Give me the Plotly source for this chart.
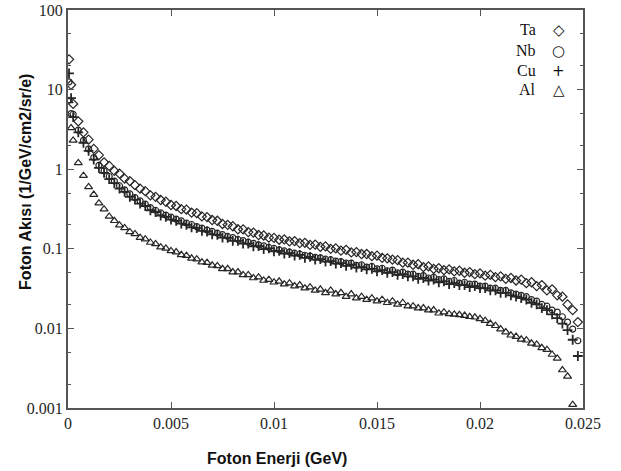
import plotly.graph_objects as go

# foton enerjisi (GeV)
energy = [0.00005, 0.00015, 0.00025, 0.0005, 0.00075, 0.001, 0.00125, 0.0015, 0.00175, 0.002,
          0.00225, 0.0025, 0.00275, 0.003, 0.00325, 0.0035, 0.00375, 0.004, 0.00425, 0.0045,
          0.00475, 0.005, 0.00525, 0.0055, 0.00575, 0.006, 0.00625, 0.0065, 0.00675, 0.007,
          0.00725, 0.0075, 0.00775, 0.008, 0.00825, 0.0085, 0.00875, 0.009, 0.00925, 0.0095,
          0.00975, 0.01, 0.01025, 0.0105, 0.01075, 0.011, 0.01125, 0.0115, 0.01175, 0.012,
          0.01225, 0.0125, 0.01275, 0.013, 0.01325, 0.0135, 0.01375, 0.014, 0.01425, 0.0145,
          0.01475, 0.015, 0.01525, 0.0155, 0.01575, 0.016, 0.01625, 0.0165, 0.01675, 0.017,
          0.01725, 0.0175, 0.01775, 0.018, 0.01825, 0.0185, 0.01875, 0.019, 0.01925, 0.0195,
          0.01975, 0.02, 0.02025, 0.0205, 0.02075, 0.021, 0.02125, 0.0215, 0.02175, 0.022,
          0.02225, 0.0225, 0.02275, 0.023, 0.02325, 0.0235, 0.02375, 0.024, 0.02425, 0.0245,
          0.02475]

ta = [24, 11.5, 6.6, 4.0, 2.9, 2.35, 1.8, 1.5, 1.22, 1.1,
      0.95, 0.88, 0.76, 0.71, 0.63, 0.57, 0.53, 0.47, 0.45, 0.41,
      0.39, 0.355, 0.345, 0.315, 0.31, 0.285, 0.28, 0.255, 0.25, 0.23,
      0.225, 0.205, 0.2, 0.192, 0.176, 0.175, 0.162, 0.16, 0.149, 0.147,
      0.138, 0.137, 0.13, 0.131, 0.124, 0.125, 0.118, 0.119, 0.112, 0.113,
      0.106, 0.107, 0.1, 0.101, 0.095, 0.097, 0.09, 0.091, 0.086, 0.086,
      0.081, 0.082, 0.077, 0.076, 0.073, 0.072, 0.067, 0.067, 0.063, 0.064,
      0.059, 0.06, 0.056, 0.057, 0.054, 0.055, 0.052, 0.053, 0.05, 0.051,
      0.048, 0.049, 0.046, 0.047, 0.044, 0.045, 0.042, 0.043, 0.04, 0.041,
      0.037, 0.038, 0.034, 0.035, 0.03, 0.031, 0.026, 0.025, 0.02, 0.017,
      0.012]

nb = [12.5, 5.0, 4.9, 3.1, 2.3, 1.8, 1.4, 1.12, 0.95, 0.81,
      0.71, 0.62, 0.55, 0.49, 0.44, 0.4, 0.365, 0.33, 0.305, 0.283,
      0.265, 0.25, 0.236, 0.224, 0.211, 0.202, 0.19, 0.182, 0.172, 0.166,
      0.157, 0.151, 0.143, 0.138, 0.131, 0.127, 0.121, 0.117, 0.112, 0.109,
      0.104, 0.101, 0.097, 0.094, 0.091, 0.088, 0.086, 0.083, 0.081, 0.078,
      0.077, 0.074, 0.073, 0.07, 0.069, 0.066, 0.066, 0.062, 0.063, 0.059,
      0.06, 0.056, 0.057, 0.053, 0.054, 0.05, 0.051, 0.048, 0.048, 0.045,
      0.046, 0.043, 0.044, 0.041, 0.042, 0.039, 0.04, 0.037, 0.038, 0.036,
      0.036, 0.034, 0.034, 0.032, 0.032, 0.03, 0.03, 0.028, 0.027, 0.026,
      0.025, 0.023, 0.022, 0.02, 0.019, 0.017, 0.016, 0.014, 0.012, 0.0098,
      0.007]

cu = [16, 7.8, 4.5, 2.9, 2.15, 1.7, 1.32, 1.04, 0.9, 0.75,
      0.67, 0.57, 0.52, 0.45, 0.415, 0.37, 0.345, 0.305, 0.29, 0.262,
      0.252, 0.232, 0.224, 0.207, 0.2, 0.186, 0.182, 0.168, 0.165, 0.152,
      0.15, 0.138, 0.137, 0.126, 0.126, 0.116, 0.116, 0.107, 0.108, 0.099,
      0.101, 0.093, 0.094, 0.087, 0.088, 0.082, 0.084, 0.077, 0.079, 0.073,
      0.074, 0.069, 0.07, 0.065, 0.066, 0.061, 0.063, 0.058, 0.059, 0.055,
      0.056, 0.052, 0.054, 0.05, 0.051, 0.047, 0.048, 0.045, 0.045, 0.042,
      0.043, 0.04, 0.041, 0.038, 0.039, 0.036, 0.037, 0.035, 0.035, 0.033,
      0.034, 0.032, 0.032, 0.03, 0.03, 0.028, 0.028, 0.026, 0.025, 0.024,
      0.023, 0.021, 0.02, 0.018, 0.017, 0.015, 0.0135, 0.0115, 0.0095, 0.0072,
      0.0045]

al = [7.2, 3.3, 2.3, 1.2, 0.83, 0.6, 0.48, 0.375, 0.315, 0.255,
      0.225, 0.198, 0.183, 0.163, 0.154, 0.138, 0.132, 0.12, 0.115, 0.105,
      0.101, 0.094, 0.091, 0.084, 0.082, 0.076, 0.074, 0.068, 0.067, 0.062,
      0.061, 0.056, 0.056, 0.051, 0.051, 0.047, 0.047, 0.043, 0.044, 0.04,
      0.041, 0.038, 0.039, 0.036, 0.037, 0.034, 0.035, 0.032, 0.033, 0.03,
      0.031, 0.028, 0.03, 0.027, 0.028, 0.025, 0.027, 0.024, 0.025, 0.023,
      0.024, 0.022, 0.023, 0.021, 0.022, 0.02, 0.021, 0.019, 0.019, 0.018,
      0.018, 0.017, 0.017, 0.0155, 0.016, 0.0152, 0.015, 0.0148, 0.0145, 0.014,
      0.0138, 0.0132, 0.0125, 0.0115, 0.0108, 0.0098, 0.009, 0.0082, 0.0079, 0.0073,
      0.0071, 0.0065, 0.0063, 0.0057, 0.0054, 0.0047, 0.0042, 0.003, 0.0025, 0.0011]

x_ticks = [0, 0.005, 0.01, 0.015, 0.02, 0.025]
x_labels = ['0', '0.005', '0.01', '0.015', '0.02', '0.025']
y_ticks = [0.001, 0.01, 0.1, 1, 10, 100]
y_labels = ['0.001', '0.01', '0.1', '1', '10', '100']

legend_names = ['Ta', 'Nb', 'Cu', 'Al']
legend_symbols = ['◇', '○', '+', '△']

ink = '#262626'
axis_col = '#555555'

fig = go.Figure()

series = [(ta, 'diamond-open', 7, 1.2), (nb, 'circle-open', 6, 1.2),
          (cu, 'cross-thin-open', 7, 1.8), (al, 'triangle-up-open', 7, 1.2)]
for (vals, sym, size, lw), name in zip(series, legend_names):
    fig.add_trace(go.Scatter(x=energy[:len(vals)], y=vals, mode='markers', name=name,
                             marker=dict(symbol=sym, size=size, color=ink,
                                         line=dict(color=ink, width=lw))))

axis_common = dict(showline=True, linecolor=axis_col, linewidth=2, mirror='ticks',
                   ticks='inside', ticklen=6, tickcolor=axis_col, tickwidth=1,
                   showgrid=False, zeroline=False, automargin=False,
                   ticklabeloverflow='allow',
                   tickfont=dict(family='Liberation Serif', size=16, color=ink))

fig.update_layout(
    width=621, height=471,
    margin=dict(l=68, r=38, t=10, b=63),
    paper_bgcolor='white', plot_bgcolor='white',
    showlegend=False,
    xaxis=dict(range=[0, 0.025], tickvals=x_ticks, ticktext=x_labels, **axis_common),
    yaxis=dict(type='log', range=[-3, 2], tickvals=y_ticks, ticktext=y_labels,
               minor=dict(ticks='inside', ticklen=3, dtick='D2', tickcolor=axis_col),
               **axis_common),
)

# eksen başlıkları
title_font = dict(family='Liberation Sans', size=16, color='#111111')
fig.add_annotation(text='<b>Foton Enerji (GeV)</b>', xref='paper', yref='paper',
                   x=0.405, y=-0.128, xanchor='center', yanchor='middle',
                   showarrow=False, font=title_font)
fig.add_annotation(text='<b>Foton Akısı (1/GeV/cm2/sr/e)</b>', xref='paper', yref='paper',
                   x=-0.0816, y=0.568, xanchor='center', yanchor='middle',
                   textangle=-90, showarrow=False, font=title_font)

# lejant
leg_y = [0.950, 0.897, 0.847, 0.799]
for name, sym, yy in zip(legend_names, legend_symbols, leg_y):
    fig.add_annotation(text=name, xref='paper', yref='paper', x=0.913, y=yy,
                       xanchor='right', yanchor='middle', showarrow=False,
                       font=dict(family='Liberation Serif', size=16, color='#111111'))
    fig.add_annotation(text=sym, xref='paper', yref='paper', x=0.953, y=yy,
                       xanchor='center', yanchor='middle', showarrow=False,
                       font=dict(family='DejaVu Sans', size=15, color='#111111'))

# sayfanın varsayılan 8px kenar boşluğunu kaldır
fig.write_html("out.html", config={'displayModeBar': False},
               post_script="document.body.style.margin = '0';")
